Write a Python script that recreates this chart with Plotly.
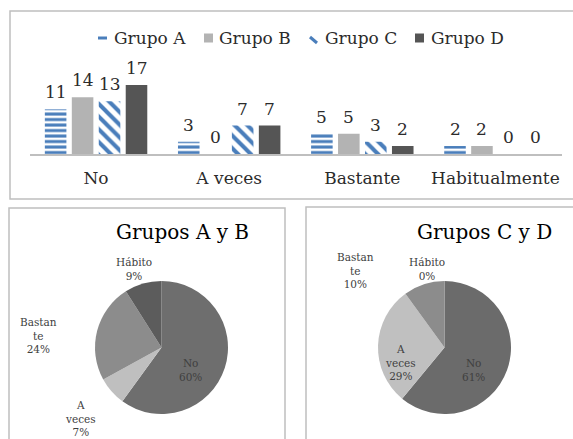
import plotly.graph_objects as go

# --- data -------------------------------------------------------------
categories = ["No", "A veces", "Bastante", "Habitualmente"]
grupo_a = [11, 3, 5, 2]
grupo_b = [14, 0, 5, 2]
grupo_c = [13, 7, 3, 0]
grupo_d = [17, 7, 2, 0]
series_names = ["Grupo A", "Grupo B", "Grupo C", "Grupo D"]

pie_labels = ["No", "A veces", "Bastante", "Hábito"]
pie_ab_pct = [60, 7, 24, 9]
pie_cd_pct = [61, 29, 10, 0]
pie_ab_text = ["No", "A<br>veces", "Bastan<br>te", "Hábito"]
pie_cd_text = ["No", "A<br>veces", "Bastan<br>te", "Hábito"]

W, H = 573, 439
FONT = "DejaVu Serif"
BLUE = "#4a7ebb"
BARGAP = 0.19
BARGROUPGAP = 0.2


def px(x):
    return x / W


def py(y):
    return 1 - y / H


fig = go.Figure()

# --- clustered bars ---------------------------------------------------
bar_styles = [
    dict(color="white", pattern=dict(shape="-", fgcolor=BLUE, bgcolor="white",
                                     size=5.5, solidity=0.55, fillmode="replace")),
    dict(color="#b3b3b3"),
    dict(color="white", pattern=dict(shape="\\", fgcolor=BLUE, bgcolor="white",
                                     size=9, solidity=0.45, fillmode="replace")),
    dict(color="#555555"),
]
all_series = [grupo_a, grupo_b, grupo_c, grupo_d]
for name, vals, style in zip(series_names, all_series, bar_styles):
    fig.add_trace(go.Bar(
        x=categories, y=vals, name=name, marker=dict(line=dict(width=0), **style),
        showlegend=False, xaxis="x", yaxis="y",
    ))

# value labels above each bar, centred on its slot within the group
annotations = []
slot = (1 - BARGAP) / len(all_series)
for i, vals in enumerate(all_series):
    offset = (i - (len(all_series) - 1) / 2) * slot
    for j, v in enumerate(vals):
        annotations.append(dict(
            x=j + offset, y=v, xref="x", yref="y", showarrow=False, text=str(v),
            yanchor="middle", yshift=17,
            font=dict(family=FONT, size=17, color="#2b2b2b"),
        ))

# legend drawn as small swatches next to the series names
legend_y = 38
legend_sym_x = [98, 204, 308, 415]
legend_txt_x = [112, 217, 323, 429]
shapes = [
    dict(type="rect", xref="paper", yref="paper", line=dict(width=0), fillcolor=BLUE,
         x0=px(legend_sym_x[0]), x1=px(legend_sym_x[0] + 9),
         y0=py(legend_y + 1.5), y1=py(legend_y - 1.5)),
    dict(type="rect", xref="paper", yref="paper", line=dict(width=0), fillcolor="#b3b3b3",
         x0=px(legend_sym_x[1]), x1=px(legend_sym_x[1] + 9),
         y0=py(legend_y + 4.5), y1=py(legend_y - 4.5)),
    dict(type="line", xref="paper", yref="paper", line=dict(width=3, color=BLUE),
         x0=px(legend_sym_x[2] + 2), x1=px(legend_sym_x[2] + 9),
         y0=py(legend_y - 1), y1=py(legend_y + 5)),
    dict(type="rect", xref="paper", yref="paper", line=dict(width=0), fillcolor="#555555",
         x0=px(legend_sym_x[3]), x1=px(legend_sym_x[3] + 9),
         y0=py(legend_y + 4.5), y1=py(legend_y - 4.5)),
]
for name, x in zip(series_names, legend_txt_x):
    annotations.append(dict(
        x=px(x), y=py(legend_y), xref="paper", yref="paper", showarrow=False, text=name,
        xanchor="left", yanchor="middle", font=dict(family=FONT, size=17, color="#2b2b2b"),
    ))

# --- pies ---------------------------------------------------------------
pie_ab_colors = ["#6e6e6e", "#bfbfbf", "#8c8c8c", "#5c5c5c"]
pie_cd_colors = ["#6b6b6b", "#c0c0c0", "#8c8c8c", "#5c5c5c"]

fig.add_trace(go.Pie(
    labels=pie_labels, values=pie_ab_pct, sort=False, direction="clockwise",
    marker=dict(colors=pie_ab_colors, line=dict(width=0)), textinfo="none",
    showlegend=False, hoverinfo="label+percent",
    domain=dict(x=[px(95), px(228)], y=[py(414), py(281)]),
))
fig.add_trace(go.Pie(
    labels=pie_labels, values=pie_cd_pct, sort=False, direction="clockwise",
    marker=dict(colors=pie_cd_colors, line=dict(width=0)), textinfo="none",
    showlegend=False, hoverinfo="label+percent",
    domain=dict(x=[px(377), px(512)], y=[py(414), py(281)]),
))

# --- pie labels -------------------------------------------------------
ab_pos = [(190, 370), (80, 418), (38, 335), (134, 269)]
cd_pos = [(473, 370), (400, 362), (355, 270), (427, 269)]
for texts, pcts, pos in [(pie_ab_text, pie_ab_pct, ab_pos), (pie_cd_text, pie_cd_pct, cd_pos)]:
    for t, p, (x, y) in zip(texts, pcts, pos):
        annotations.append(dict(
            x=px(x), y=py(y), xref="paper", yref="paper", showarrow=False,
            text=f"{t}<br>{p}%", font=dict(family=FONT, size=10.5, color="#404040"),
            xanchor="center", yanchor="middle",
        ))

annotations.append(dict(x=px(182), y=py(232), xref="paper", yref="paper", showarrow=False,
                        text="Grupos A y B", font=dict(family=FONT, size=20, color="#000000"),
                        xanchor="center", yanchor="middle"))
annotations.append(dict(x=px(484), y=py(232), xref="paper", yref="paper", showarrow=False,
                        text="Grupos C y D", font=dict(family=FONT, size=20, color="#000000"),
                        xanchor="center", yanchor="middle"))

# --- panel frames -------------------------------------------------------
frame = dict(type="rect", xref="paper", yref="paper", line=dict(color="#bfbfbf", width=1.5),
             fillcolor="rgba(0,0,0,0)", layer="below")
shapes += [
    dict(frame, x0=px(10), x1=px(580), y0=py(199), y1=py(11)),
    dict(frame, x0=px(9), x1=px(285), y0=py(450), y1=py(208)),
    dict(frame, x0=px(306), x1=px(580), y0=py(450), y1=py(207)),
]

fig.update_layout(
    width=W, height=H, margin=dict(l=0, r=0, t=0, b=0),
    paper_bgcolor="white", plot_bgcolor="white",
    font=dict(family=FONT, color="#333333"),
    barmode="group", bargap=BARGAP, bargroupgap=BARGROUPGAP,
    xaxis=dict(domain=[px(29.5), px(562)], showline=True, linecolor="#bfbfbf", linewidth=1.5,
               ticks="", showgrid=False, tickfont=dict(family=FONT, size=17, color="#2b2b2b"),
               ticklabelstandoff=8, fixedrange=True),
    yaxis=dict(domain=[py(154), py(72.8)], range=[0, 20], visible=False, fixedrange=True),
    showlegend=False,
    annotations=annotations, shapes=shapes,
)

fig.write_html("out.html")
